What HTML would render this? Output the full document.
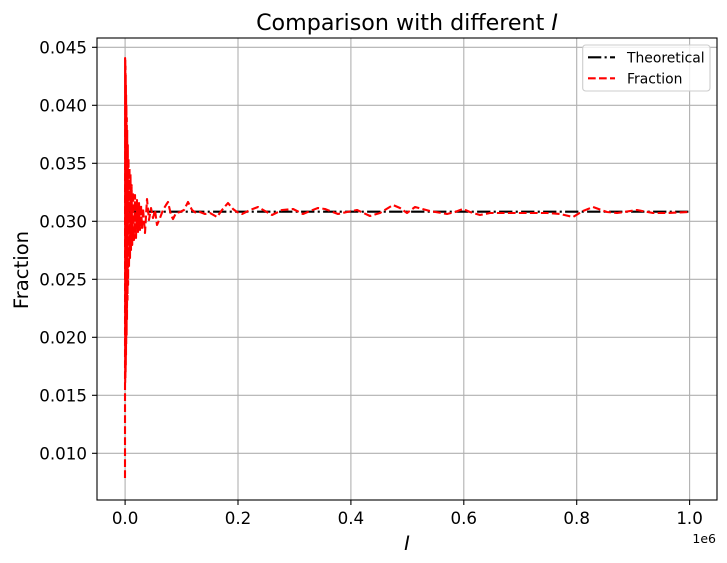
<!DOCTYPE html>
<html><head><meta charset="utf-8"><style>
html,body{margin:0;padding:0;background:#fff;}
svg{display:block;font-family:"DejaVu Sans","Liberation Sans",sans-serif;}
</style></head><body>
<svg width="727" height="563" viewBox="0 0 727 563" xmlns="http://www.w3.org/2000/svg">
<rect width="727" height="563" fill="#fff"/>
<!-- grid -->
<g stroke="#b0b0b0" stroke-width="1.1">
<line x1="125.1" y1="38" x2="125.1" y2="500"/>
<line x1="238" y1="38" x2="238" y2="500"/>
<line x1="350.9" y1="38" x2="350.9" y2="500"/>
<line x1="463.8" y1="38" x2="463.8" y2="500"/>
<line x1="576.7" y1="38" x2="576.7" y2="500"/>
<line x1="689.6" y1="38" x2="689.6" y2="500"/>
<line x1="97" y1="47.3" x2="717" y2="47.3"/>
<line x1="97" y1="105.3" x2="717" y2="105.3"/>
<line x1="97" y1="163.3" x2="717" y2="163.3"/>
<line x1="97" y1="221.3" x2="717" y2="221.3"/>
<line x1="97" y1="279.3" x2="717" y2="279.3"/>
<line x1="97" y1="337.3" x2="717" y2="337.3"/>
<line x1="97" y1="395.3" x2="717" y2="395.3"/>
<line x1="97" y1="453.3" x2="717" y2="453.3"/>
</g>
<!-- theoretical -->
<line x1="125.1" y1="211.7" x2="689.6" y2="211.7" stroke="#000" stroke-width="2.1" stroke-dasharray="13.3,3.3,2.1,3.3"/>
<!-- fraction -->
<polyline fill="none" stroke="#ff0000" stroke-width="2.1" stroke-dasharray="7.7,3.3" stroke-linejoin="round"
points="125,478 125.1,58 125.2,383 125.3,60 125.4,378 125.5,66 125.6,372 125.7,75 125.8,365 125.9,85 126,355 126.1,95 126.2,345 126.4,105 126.6,335 126.8,118 127,320 127.2,130 127.5,300 127.8,145 128.1,285 128.5,158 129,268 129.5,168 130,258 130.5,174 131,250 131.6,185 132.2,245 133,192 134,240 135,195 136,238 137,200 138,232 139,203 140,230 141,205 142,228 143,208 145,233 147,199 149,220 151,208 153,218 155,210 157,225 160,218 163,210 166,205 168,202 171,215 173,219 176,213 180,212 184,210 188,202 192,210 196,213 200,212 205,214 210,213 217,217 222,210 228,203 233,209 237,212 242,214 250,210 258,207 265,211 272,215 282,210 293,209 303,214 310,211 318,208 325,209 338,214 347,212 357,210 370,216 380,213 393,205 400,208 407,213 415,207 430,211 447,214 455,212 463,209 470,212 480,215 490,213 507,213 527,213 547,213 560,214 573,217 583,211 593,207 607,212 617,213 637,210 653,213 667,213 689.6,212"/>
<!-- spines -->
<rect x="97" y="38" width="620" height="462" fill="none" stroke="#000" stroke-width="1.1"/>
<!-- ticks -->
<g stroke="#000" stroke-width="1.1">
<line x1="125.1" y1="500" x2="125.1" y2="505"/>
<line x1="238" y1="500" x2="238" y2="505"/>
<line x1="350.9" y1="500" x2="350.9" y2="505"/>
<line x1="463.8" y1="500" x2="463.8" y2="505"/>
<line x1="576.7" y1="500" x2="576.7" y2="505"/>
<line x1="689.6" y1="500" x2="689.6" y2="505"/>
<line x1="92" y1="47.3" x2="97" y2="47.3"/>
<line x1="92" y1="105.3" x2="97" y2="105.3"/>
<line x1="92" y1="163.3" x2="97" y2="163.3"/>
<line x1="92" y1="221.3" x2="97" y2="221.3"/>
<line x1="92" y1="279.3" x2="97" y2="279.3"/>
<line x1="92" y1="337.3" x2="97" y2="337.3"/>
<line x1="92" y1="395.3" x2="97" y2="395.3"/>
<line x1="92" y1="453.3" x2="97" y2="453.3"/>
</g>
<!-- tick labels -->
<g font-size="16.7" fill="#000" text-anchor="middle">
<text x="125.1" y="524">0.0</text>
<text x="238" y="524">0.2</text>
<text x="350.9" y="524">0.4</text>
<text x="463.8" y="524">0.6</text>
<text x="576.7" y="524">0.8</text>
<text x="689.6" y="524">1.0</text>
</g>
<g font-size="16.7" fill="#000" text-anchor="end">
<text x="87" y="53.4">0.045</text>
<text x="87" y="111.4">0.040</text>
<text x="87" y="169.4">0.035</text>
<text x="87" y="227.4">0.030</text>
<text x="87" y="285.4">0.025</text>
<text x="87" y="343.4">0.020</text>
<text x="87" y="401.4">0.015</text>
<text x="87" y="459.4">0.010</text>
</g>
<text x="716" y="543" font-size="12.5" text-anchor="end">1e6</text>
<!-- labels -->
<text x="407" y="30" font-size="22.2" text-anchor="middle">Comparison with different <tspan font-style="italic">I</tspan></text>
<text x="407" y="550" font-size="19.4" font-style="italic" text-anchor="middle">I</text>
<text transform="translate(28,270) rotate(-90)" font-size="19.6" text-anchor="middle">Fraction</text>
<!-- legend -->
<rect x="582.7" y="45" width="127.3" height="46" rx="3" ry="3" fill="#fff" fill-opacity="0.8" stroke="#cccccc" stroke-width="1.1"/>
<line x1="588" y1="57.3" x2="615" y2="57.3" stroke="#000" stroke-width="2.1" stroke-dasharray="13.3,3.3,2.1,3.3"/>
<line x1="588" y1="78.3" x2="615" y2="78.3" stroke="#ff0000" stroke-width="2.1" stroke-dasharray="7.7,3.3"/>
<text x="627" y="62.3" font-size="13.9">Theoretical</text>
<text x="627" y="83.3" font-size="13.9">Fraction</text>
</svg>
</body></html>
